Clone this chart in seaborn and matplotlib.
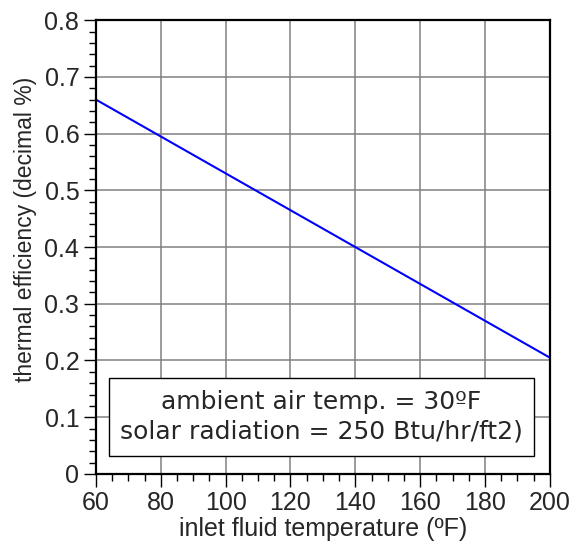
import numpy as np
import pandas as pd
import matplotlib
matplotlib.use("Agg")
import matplotlib.pyplot as plt
from matplotlib.ticker import MultipleLocator
from matplotlib.patches import Rectangle
import seaborn as sns

# veri
inlet_temp = [60, 200]
efficiency = [0.66, 0.205]
y_ticks = [0, 0.1, 0.2, 0.3, 0.4, 0.5, 0.6, 0.7, 0.8]
y_labels = ["0", "0.1", "0.2", "0.3", "0.4", "0.5", "0.6", "0.7", "0.8"]

df = pd.DataFrame({"temp": inlet_temp, "eff": efficiency})

sns.set_style("white")
plt.rcParams['font.family'] = ['Liberation Sans', 'DejaVu Sans']

fig = plt.figure(figsize=(5.71, 5.46), dpi=100)
ax = fig.add_axes([0.168, 0.132, 0.795, 0.831])

sns.lineplot(data=df, x="temp", y="eff", color="blue", linewidth=1.5, ax=ax)

ax.set_xlim(60, 200)
ax.set_ylim(0, 0.8)
ax.xaxis.set_major_locator(MultipleLocator(20))
ax.xaxis.set_minor_locator(MultipleLocator(5))
ax.yaxis.set_minor_locator(MultipleLocator(0.02))
ax.set_yticks(y_ticks)
ax.set_yticklabels(y_labels)

ax.grid(True, which="major", color="#808080", linewidth=1.1)
for s in ax.spines.values():
    s.set_color("black")
    s.set_linewidth(1.6)

ax.tick_params(which="major", direction="out", length=9, width=1, labelsize=18, color="black",
               left=True, bottom=True, pad=3)
ax.tick_params(which="minor", direction="out", length=5, width=1, color="black",
               left=True, bottom=True)

ax.set_xlabel("inlet fluid temperature (ºF)", fontsize=18, labelpad=2)
ax.set_ylabel("thermal efficiency (decimal %)", fontsize=16.5)
ax.yaxis.set_label_coords(-0.13, 0.54)

# bilgi kutusu
ax.add_patch(Rectangle((0.029, 0.040), 0.936, 0.171, transform=ax.transAxes,
                       facecolor="white", edgecolor="black", linewidth=1, zorder=5))
ax.text(0.497, 0.1255, "ambient air temp. = 30ºF\nsolar radiation = 250 Btu/hr/ft2)",
        transform=ax.transAxes, ha="center", va="center", fontsize=18,
        family=["DejaVu Sans"], linespacing=1.3, zorder=6)

fig.savefig("out.png", dpi=100)
